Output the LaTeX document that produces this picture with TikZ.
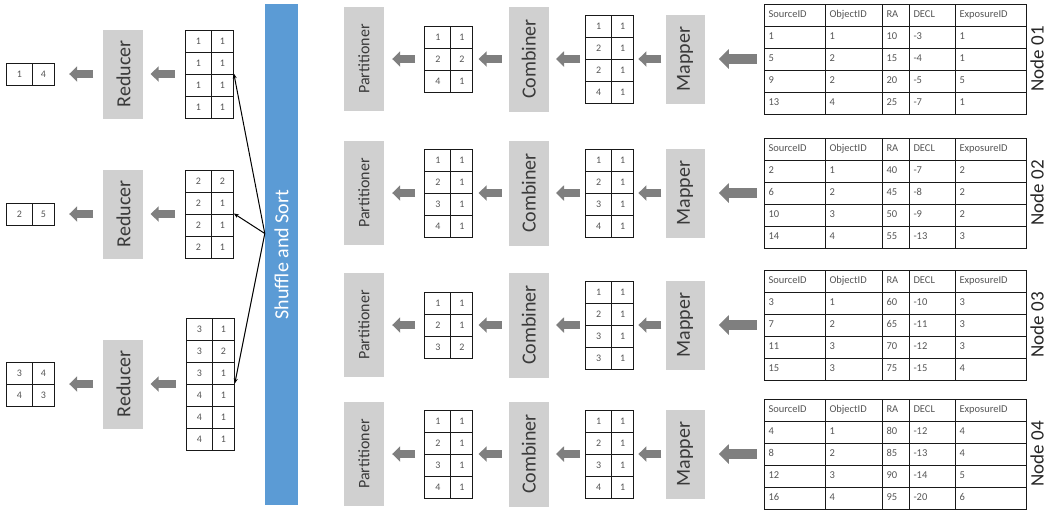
\documentclass[tikz,border=0pt]{standalone}
\usepackage{fontspec}
\setmainfont{Carlito}
\usetikzlibrary{arrows.meta,positioning,matrix}
\definecolor{SortBlue}{HTML}{5B9BD5}
\definecolor{StageGray}{HTML}{D0D0D0}
\definecolor{StageText}{HTML}{3A3A3A}
\definecolor{FlowGray}{HTML}{7F7F7F}
\definecolor{CellText}{HTML}{555555}
\newcommand{\vtext}[1]{\rotatebox{90}{#1}}
\tikzset{
  stage/.style={rectangle,fill=StageGray,inner sep=0pt,minimum width=40pt,text=StageText,font=\fontsize{20}{24}\selectfont},
  kvtab/.style={matrix of nodes,inner sep=0pt,row sep=-1pt,column sep=-1pt,
    nodes={draw=black!90,line width=1pt,inner sep=0pt,minimum height=22pt,text=CellText,font=\fontsize{10}{12}\selectfont,text height=7pt,text depth=1pt},
    column 1/.style={nodes={minimum width=26pt}},
    column 2/.style={nodes={minimum width=22pt}}},
  srctab/.style={matrix of nodes,inner sep=0pt,row sep=-1pt,column sep=-1pt,
    nodes={draw=black!90,line width=1pt,inner xsep=4pt,inner ysep=0pt,minimum height=22pt,align=left,text=CellText,font=\fontsize{10.5}{12}\selectfont,text height=7pt,text depth=2pt},
    column 1/.style={nodes={text width=53pt}},
    column 2/.style={nodes={text width=49pt}},
    column 3/.style={nodes={text width=19pt}},
    column 4/.style={nodes={text width=38pt}},
    column 5/.style={nodes={text width=63pt}}},
  flow/.style={-{Triangle[length=8pt,width=15pt]},line width=8pt,draw=FlowGray},
  bigflow/.style={-{Triangle[length=10pt,width=19pt]},line width=10pt,draw=FlowGray,shorten >=14pt,shorten <=7pt},
  feed/.style={-{Stealth[length=5pt,width=4pt]},line width=1pt,black},
  nodelabel/.style={inner sep=0pt,font=\fontsize{19}{22}\selectfont,text=black!85},
}
\begin{document}
\begin{tikzpicture}[x=1pt,y=-1pt]
  \useasboundingbox (0,0) rectangle (1052,520);

  % Shuffle and sort bar
  \node[fill=SortBlue,inner sep=0pt,minimum width=33pt,minimum height=501pt,text=white,font=\fontsize{20}{24}\selectfont] (shuffle) at (281.5,254.5) {\vtext{Shuffle and Sort}};
  \coordinate (fork) at ([yshift=21pt]shuffle.west);

  % Reduce side
  \matrix[kvtab] (out1) at (30.5,74) {1 & 4\\};
  \node[stage, minimum height=89pt, right=48pt of out1] (red1) {\vtext{Reducer}};
  \matrix[kvtab, right=41pt of red1] (rt1) {1 & 1\\ 1 & 1\\ 1 & 1\\ 1 & 1\\};

  \matrix[kvtab] (out2) at (30.5,214) {2 & 5\\};
  \node[stage, minimum height=89pt, right=48pt of out2] (red2) {\vtext{Reducer}};
  \matrix[kvtab, right=41pt of red2] (rt2) {2 & 2\\ 2 & 1\\ 2 & 1\\ 2 & 1\\};

  \matrix[kvtab] (out3) at (30.5,384) {3 & 4\\ 4 & 3\\};
  \node[stage, minimum height=89pt, right=48pt of out3] (red3) {\vtext{Reducer}};
  \matrix[kvtab, right=42pt of red3] (rt3) {3 & 1\\ 3 & 2\\ 3 & 1\\ 4 & 1\\ 4 & 1\\ 4 & 1\\};

  % Node 01
  \node[stage, minimum height=104pt, font=\fontsize{16}{20}\selectfont] (part1) at (364,59) {\vtext{Partitioner}};
  \matrix[kvtab, right=40pt of part1] (ct1) {1 & 1\\ 2 & 2\\ 4 & 1\\};
  \node[stage, minimum height=105pt, right=35pt of ct1] (comb1) {\vtext{Combiner}};
  \matrix[kvtab, right=36pt of comb1] (mt1) {1 & 1\\ 2 & 1\\ 2 & 1\\ 4 & 1\\};
  \node[stage, minimum width=39pt, minimum height=89pt, right=31pt of mt1] (map1) {\vtext{Mapper}};
  \matrix[srctab, right=59pt of map1] (in1) {
    SourceID & ObjectID & RA & DECL & ExposureID\\
    1 & 1 & 10 & -3 & 1\\
    5 & 2 & 15 & -4 & 1\\
    9 & 2 & 20 & -5 & 5\\
    13 & 4 & 25 & -7 & 1\\};
  \node[nodelabel, right=3pt of in1] (lab1) {\vtext{Node 01}};

  % Node 02
  \node[stage, minimum height=104pt, font=\fontsize{16}{20}\selectfont] (part2) at (364,193) {\vtext{Partitioner}};
  \matrix[kvtab, right=40pt of part2] (ct2) {1 & 1\\ 2 & 1\\ 3 & 1\\ 4 & 1\\};
  \node[stage, minimum height=105pt, right=35pt of ct2] (comb2) {\vtext{Combiner}};
  \matrix[kvtab, right=36pt of comb2] (mt2) {1 & 1\\ 2 & 1\\ 3 & 1\\ 4 & 1\\};
  \node[stage, minimum width=39pt, minimum height=89pt, right=31pt of mt2] (map2) {\vtext{Mapper}};
  \matrix[srctab, right=59pt of map2] (in2) {
    SourceID & ObjectID & RA & DECL & ExposureID\\
    2 & 1 & 40 & -7 & 2\\
    6 & 2 & 45 & -8 & 2\\
    10 & 3 & 50 & -9 & 2\\
    14 & 4 & 55 & -13 & 3\\};
  \node[nodelabel, right=3pt of in2] (lab2) {\vtext{Node 02}};

  % Node 03
  \node[stage, minimum height=104pt, font=\fontsize{16}{20}\selectfont] (part3) at (364,325) {\vtext{Partitioner}};
  \matrix[kvtab, right=40pt of part3] (ct3) {1 & 1\\ 2 & 1\\ 3 & 2\\};
  \node[stage, minimum height=105pt, right=35pt of ct3] (comb3) {\vtext{Combiner}};
  \matrix[kvtab, right=36pt of comb3] (mt3) {1 & 1\\ 2 & 1\\ 3 & 1\\ 3 & 1\\};
  \node[stage, minimum width=39pt, minimum height=89pt, right=31pt of mt3] (map3) {\vtext{Mapper}};
  \matrix[srctab, right=59pt of map3] (in3) {
    SourceID & ObjectID & RA & DECL & ExposureID\\
    3 & 1 & 60 & -10 & 3\\
    7 & 2 & 65 & -11 & 3\\
    11 & 3 & 70 & -12 & 3\\
    15 & 3 & 75 & -15 & 4\\};
  \node[nodelabel, right=3pt of in3] (lab3) {\vtext{Node 03}};

  % Node 04
  \node[stage, minimum height=104pt, font=\fontsize{16}{20}\selectfont] (part4) at (364,454) {\vtext{Partitioner}};
  \matrix[kvtab, right=40pt of part4] (ct4) {1 & 1\\ 2 & 1\\ 3 & 1\\ 4 & 1\\};
  \node[stage, minimum height=105pt, right=35pt of ct4] (comb4) {\vtext{Combiner}};
  \matrix[kvtab, right=36pt of comb4] (mt4) {1 & 1\\ 2 & 1\\ 3 & 1\\ 4 & 1\\};
  \node[stage, minimum width=39pt, minimum height=89pt, right=31pt of mt4] (map4) {\vtext{Mapper}};
  \matrix[srctab, right=59pt of map4] (in4) {
    SourceID & ObjectID & RA & DECL & ExposureID\\
    4 & 1 & 80 & -12 & 4\\
    8 & 2 & 85 & -13 & 4\\
    12 & 3 & 90 & -14 & 5\\
    16 & 4 & 95 & -20 & 6\\};
  \node[nodelabel, right=3pt of in4] (lab4) {\vtext{Node 04}};

  % Reduce arrows
  \draw[flow, shorten >=14pt, shorten <=10pt] (red1) -- (out1);
  \draw[flow, shorten >=7pt, shorten <=10pt] (rt1) -- (red1);
  \draw[flow, shorten >=14pt, shorten <=10pt] (red2) -- (out2);
  \draw[flow, shorten >=7pt, shorten <=10pt] (rt2) -- (red2);
  \draw[flow, shorten >=14pt, shorten <=10pt] (red3) -- (out3);
  \draw[flow, shorten >=7pt, shorten <=10pt] (rt3) -- (red3);

  % Shuffle arrows
  \draw[feed] (fork) -- (rt1-3-2.north east);
  \draw[feed] (fork) -- (rt2-3-2.north east);
  \draw[feed] (fork) -- (rt3-4-2.north east);

  % Map side arrows
  \draw[flow, shorten >=8pt, shorten <=9pt] (ct1) -- (part1);
  \draw[flow, shorten >=5pt, shorten <=7pt] (comb1) -- (ct1);
  \draw[flow, shorten >=7pt, shorten <=5pt] (mt1) -- (comb1);
  \draw[flow, shorten >=4pt, shorten <=4pt] (map1) -- (mt1);
  \draw[bigflow] (in1) -- (map1);

  \draw[flow, shorten >=8pt, shorten <=9pt] (ct2) -- (part2);
  \draw[flow, shorten >=5pt, shorten <=7pt] (comb2) -- (ct2);
  \draw[flow, shorten >=7pt, shorten <=5pt] (mt2) -- (comb2);
  \draw[flow, shorten >=4pt, shorten <=4pt] (map2) -- (mt2);
  \draw[bigflow] (in2) -- (map2);

  \draw[flow, shorten >=8pt, shorten <=9pt] (ct3) -- (part3);
  \draw[flow, shorten >=5pt, shorten <=7pt] (comb3) -- (ct3);
  \draw[flow, shorten >=7pt, shorten <=5pt] (mt3) -- (comb3);
  \draw[flow, shorten >=4pt, shorten <=4pt] (map3) -- (mt3);
  \draw[bigflow] (in3) -- (map3);

  \draw[flow, shorten >=8pt, shorten <=9pt] (ct4) -- (part4);
  \draw[flow, shorten >=5pt, shorten <=7pt] (comb4) -- (ct4);
  \draw[flow, shorten >=7pt, shorten <=5pt] (mt4) -- (comb4);
  \draw[flow, shorten >=4pt, shorten <=4pt] (map4) -- (mt4);
  \draw[bigflow] (in4) -- (map4);

\end{tikzpicture}
\end{document}
